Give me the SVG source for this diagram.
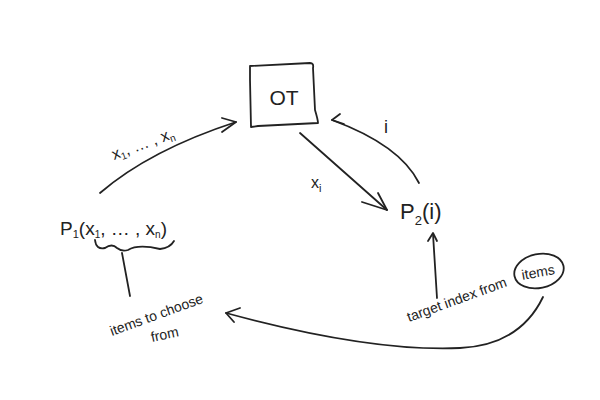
<svg xmlns="http://www.w3.org/2000/svg" width="600" height="400" viewBox="0 0 600 400">
<style>
.s{fill:none;stroke:#222;stroke-width:1.8;stroke-linecap:round;stroke-linejoin:round}
.t{font-family:"Liberation Sans",sans-serif;fill:#222}
</style>
<rect width="600" height="400" fill="#fff"/>
<g id="ot">
<path class="s" d="M250,66 L310,63 Q314,63 313,68 L315,110 Q318,120 318,123 L258,126 L251,127 L250,80 Z"/>
<text class="t" x="284" y="105" font-size="21" text-anchor="middle">OT</text>
</g>
<g id="p1">
<text class="t" x="60" y="235" font-size="19">P<tspan font-size="11" dy="3">1</tspan><tspan dy="-3">(x</tspan><tspan font-size="10" dy="3">1</tspan><tspan dy="-3">, … , x</tspan><tspan font-size="10" dy="3">n</tspan><tspan dy="-3">)</tspan></text>
<path class="s" d="M95,240 Q96,250 105,248 Q112,243 117,248 Q122,252 128,250 Q138,244 160,249 Q170,248 174,241"/>
</g>
<g id="p2">
<text class="t" x="400" y="219" font-size="22">P<tspan font-size="13" dy="6">2</tspan><tspan dy="-6">(i)</tspan></text>
</g>
<g id="items-note">
<text class="t" font-size="14" transform="translate(112,336) rotate(-20)">items to choose</text>
<text class="t" font-size="14" transform="translate(152,342) rotate(-12)">from</text>
</g>
<g id="target-note">
<text class="t" font-size="14" transform="translate(409,322) rotate(-20)">target index from</text>
<text class="t" font-size="14" text-anchor="middle" transform="translate(539,277) rotate(-10)">items</text>
<ellipse class="s" cx="539" cy="271" rx="25" ry="17" transform="rotate(-12 539 271)"/>
</g>
<g id="connectors">
<path class="s" d="M100,193 Q150,150 236,122"/>
<path class="s" d="M222,118 L236,122 L222,132"/>
<text class="t" font-size="16" transform="translate(114,160) rotate(-20)">x<tspan font-size="10" dy="3">1</tspan><tspan dy="-3">, … , x</tspan><tspan font-size="10" dy="3">n</tspan></text>
<path class="s" d="M300,133 L387,210"/>
<path class="s" d="M362,202 L387,210 L378,193"/>
<text class="t" font-size="16" x="311" y="188">x<tspan font-size="11" dy="4">i</tspan></text>
<path class="s" d="M419,183 Q400,145 332,120"/>
<path class="s" d="M340,114 L332,120 L344,124"/>
<text class="t" font-size="18" x="384" y="133">i</text>
<path class="s" d="M437,298 L433,234"/>
<path class="s" d="M428,241 L433,233 L437,241"/>
<path class="s" d="M122,253 L130,296"/>
<path class="s" d="M543,297 Q520,345 460,348 Q370,352 226,313"/>
<path class="s" d="M240,308 L226,313 L234,322"/>
</g>
</svg>
